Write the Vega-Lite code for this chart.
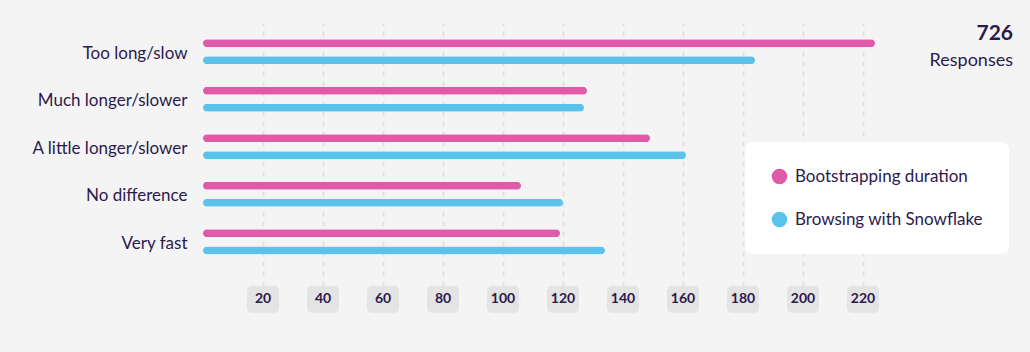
{
  "$schema": "https://vega.github.io/schema/vega-lite/v6.json",
  "width": 720,
  "height": 263,
  "autosize": {"type": "none"},
  "padding": {"left": 203, "top": 23, "right": 107, "bottom": 66},
  "background": "#f4f4f4",
  "config": {
    "font": "Lato",
    "view": {"stroke": null},
    "title": {"font": "Lato"}
  },
  "title": {
    "text": "726",
    "subtitle": "Responses",
    "anchor": "end",
    "frame": "group",
    "fontSize": 21,
    "fontWeight": "bold",
    "color": "#2c1a4d",
    "subtitleFontSize": 18,
    "subtitleColor": "#2c1a4d",
    "subtitlePadding": 8,
    "dx": 90,
    "dy": 51
  },
  "datasets": {
    "bars": [
      {"category": "Too long/slow", "series": "Bootstrapping duration", "value": 224},
      {"category": "Too long/slow", "series": "Browsing with Snowflake", "value": 184},
      {"category": "Much longer/slower", "series": "Bootstrapping duration", "value": 128},
      {"category": "Much longer/slower", "series": "Browsing with Snowflake", "value": 127},
      {"category": "A little longer/slower", "series": "Bootstrapping duration", "value": 149},
      {"category": "A little longer/slower", "series": "Browsing with Snowflake", "value": 161},
      {"category": "No difference", "series": "Bootstrapping duration", "value": 106},
      {"category": "No difference", "series": "Browsing with Snowflake", "value": 120},
      {"category": "Very fast", "series": "Bootstrapping duration", "value": 119},
      {"category": "Very fast", "series": "Browsing with Snowflake", "value": 134}
    ],
    "ticks": [
      {"v": 20}, {"v": 40}, {"v": 60}, {"v": 80}, {"v": 100}, {"v": 120},
      {"v": 140}, {"v": 160}, {"v": 180}, {"v": 200}, {"v": 220}
    ]
  },
  "layer": [
    {
      "data": {"name": "bars"},
      "mark": {"type": "bar", "height": 8, "cornerRadius": 4},
      "encoding": {
        "x": {
          "field": "value",
          "type": "quantitative",
          "scale": {"domain": [0, 240], "nice": false, "zero": true},
          "axis": {
            "values": [20, 40, 60, 80, 100, 120, 140, 160, 180, 200, 220],
            "labels": false,
            "ticks": false,
            "domain": false,
            "title": null,
            "grid": true,
            "gridColor": "#e2e2e2",
            "gridDash": [5, 5],
            "gridWidth": 2
          }
        },
        "y": {
          "field": "category",
          "type": "nominal",
          "sort": ["Too long/slow", "Much longer/slower", "A little longer/slower", "No difference", "Very fast"],
          "scale": {"paddingInner": 0, "paddingOuter": 0.268, "align": 0.2},
          "axis": {
            "title": null,
            "ticks": false,
            "domain": false,
            "labelFontSize": 17,
            "labelColor": "#2c1a4d",
            "labelPadding": 16,
            "labelOffset": 2,
            "labelFont": "Lato",
            "labelLimit": 300
          }
        },
        "yOffset": {
          "field": "series",
          "type": "nominal",
          "sort": ["Bootstrapping duration", "Browsing with Snowflake"],
          "scale": {"paddingInner": 0, "paddingOuter": 0.397}
        },
        "color": {
          "field": "series",
          "type": "nominal",
          "sort": ["Bootstrapping duration", "Browsing with Snowflake"],
          "scale": {"range": ["#e05aaa", "#5bc2eb"]},
          "legend": {
            "orient": "none",
            "legendX": 542,
            "legendY": 119,
            "title": null,
            "fillColor": "#ffffff",
            "cornerRadius": 8,
            "padding": 26,
            "rowPadding": 25,
            "symbolType": "circle",
            "symbolSize": 240,
            "symbolStrokeWidth": 0,
            "labelFontSize": 17,
            "labelColor": "#2c1a4d",
            "labelFont": "Lato",
            "labelOffset": 7,
            "labelLimit": 400
          }
        }
      }
    },
    {
      "data": {"name": "ticks"},
      "encoding": {
        "x": {"field": "v", "type": "quantitative"},
        "y": {"datum": -0.5, "type": "quantitative", "scale": {"domain": [0, 10], "nice": false, "zero": false}, "axis": null}
      },
      "layer": [
        {
          "mark": {"type": "tick", "orient": "vertical", "size": 27, "thickness": 32, "cornerRadius": 5, "color": "#e4e4e4", "opacity": 1}
        },
        {
          "mark": {"type": "text", "fontWeight": "bold", "fontSize": 14, "color": "#2c1a4d", "baseline": "middle", "align": "center"},
          "encoding": {
            "text": {"field": "v", "type": "quantitative"}
          }
        }
      ]
    }
  ],
  "resolve": {"scale": {"y": "independent"}}
}
